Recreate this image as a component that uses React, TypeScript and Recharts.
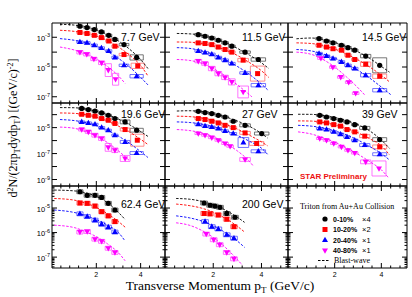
import React from 'react';
import { ComposedChart, Scatter, Line, XAxis, YAxis, ReferenceArea, ReferenceLine } from 'recharts';

// [pT, yield, sys factor (optional)]
const pts77 = [
  [[1.26, 5.5e-3], [1.58, 4.5e-3], [1.91, 3.3e-3], [2.23, 2.3e-3], [2.56, 1.35e-3], [2.84, 7.1e-4], [3.25, 3.2e-4], [3.82, 4.4e-5, 1.5]],
  [[1.26, 2.1e-3], [1.58, 1.8e-3], [1.91, 1.35e-3], [2.23, 9.5e-4], [2.56, 5.6e-4], [2.84, 2.5e-4], [3.25, 6.9e-5], [3.87, 1.2e-5, 1.5]],
  [[1.26, 4.8e-4], [1.58, 4.2e-4], [1.91, 2.9e-4], [2.23, 1.9e-4], [2.56, 1.2e-4], [2.84, 4.4e-5], [3.25, 1.3e-5], [3.82, 2.4e-6, 1.3]],
  [[1.26, 9.8e-5, 1.3], [1.57, 7.2e-5, 1.3], [1.89, 3.5e-5, 1.3], [2.24, 1.9e-5, 1.3], [2.54, 6.2e-6, 2.7], [2.87, 1.5e-6, 2.5]],
];
const fit77 = [
  [[0.36, 7.4e-3], [1, 6.6e-3], [1.5, 5.0e-3], [2, 3.16e-3], [2.5, 1.5e-3], [3, 5.6e-4], [3.5, 1.58e-4], [4, 3.16e-5], [4.33, 7.9e-6]],
  [[0.36, 2.95e-3], [1, 2.5e-3], [1.5, 1.9e-3], [2, 1.2e-3], [2.5, 6.0e-4], [3, 2.2e-4], [3.5, 6.3e-5], [4, 1.26e-5], [4.33, 2.5e-6]],
  [[0.36, 8.1e-4], [1, 6.3e-4], [1.5, 4.4e-4], [2, 2.5e-4], [2.5, 1.1e-4], [3, 3.8e-5], [3.5, 1e-5], [4, 2e-6], [4.33, 6.3e-7]],
  [[0.36, 2.2e-4], [1, 1.4e-4], [1.5, 7.9e-5], [2, 3.5e-5], [2.5, 1.1e-5], [3, 2.5e-6], [3.3, 7.9e-7]],
];

const pts115 = [
  [[1.38, 1.5e-3], [1.66, 1.17e-3], [1.94, 8.9e-4], [2.21, 6.3e-4], [2.49, 4.2e-4], [2.77, 2.5e-4], [3.32, 1.0e-4], [3.87, 3.2e-5, 1.3]],
  [[1.38, 4.2e-4], [1.66, 3.8e-4], [1.94, 3.2e-4], [2.21, 2.2e-4], [2.49, 1.5e-4], [2.77, 1.0e-4], [3.24, 2.9e-5, 1.3], [3.84, 3.6e-6, 3.2]],
  [[1.38, 1.2e-4], [1.66, 9.3e-5], [1.94, 7.2e-5], [2.21, 4.4e-5], [2.49, 2.9e-5], [2.77, 1.7e-5], [3.32, 4e-6], [3.87, 6e-7, 1.3]],
  [[1.38, 2.5e-5, 1.3], [1.66, 1.7e-5, 1.3], [1.94, 7.9e-6, 1.4], [2.21, 3.6e-6, 1.4], [2.49, 2e-6, 1.4], [2.77, 1e-6, 1.6], [3.24, 2.1e-7, 2.5]],
];
const fit115 = [
  [[0.49, 1.8e-3], [1, 1.7e-3], [1.5, 1.4e-3], [2, 8.7e-4], [2.5, 4.4e-4], [3, 1.8e-4], [3.5, 6.3e-5], [4, 1.9e-5], [4.3, 8e-6]],
  [[0.49, 4.8e-4], [1, 4.7e-4], [1.5, 3.8e-4], [2, 2.6e-4], [2.5, 1.4e-4], [3, 6e-5], [3.5, 2e-5], [4, 5.6e-6], [4.3, 2e-6]],
  [[0.49, 2e-4], [1, 1.8e-4], [1.5, 1.26e-4], [2, 7.1e-5], [2.5, 3.2e-5], [3, 1.1e-5], [3.5, 3.2e-6], [4, 7.1e-7], [4.3, 2.5e-7]],
  [[0.49, 3.2e-5], [1, 2.8e-5], [1.5, 1.8e-5], [2, 7.9e-6], [2.5, 2.5e-6], [3, 6.3e-7], [3.6, 1e-7]],
];

const pts145 = [
  [[1.33, 8.1e-4], [1.65, 5.6e-4], [1.93, 4.2e-4], [2.29, 2.9e-4], [2.57, 2.0e-4], [2.86, 1.35e-4], [3.33, 5.4e-5, 1.3], [3.93, 1.3e-5, 3.2]],
  [[1.33, 2.9e-4], [1.65, 2.2e-4], [1.93, 1.7e-4], [2.29, 1.35e-4], [2.57, 6.2e-5], [2.86, 3.2e-5], [3.33, 1.55e-5, 1.4], [3.93, 2.4e-6, 1.4]],
  [[1.33, 8.1e-5], [1.65, 5.4e-5], [1.93, 3.7e-5], [2.29, 2.2e-5], [2.57, 1.3e-5], [2.86, 7.9e-6], [3.33, 2.8e-6, 1.3], [3.93, 2.75e-7, 1.3]],
  [[1.41, 3.9e-5], [1.92, 9.8e-6], [2.26, 2.1e-6], [2.6, 9.5e-7], [2.9, 1.7e-7]],
];
const fit145 = [
  [[0.36, 7.9e-4], [1, 8.9e-4], [1.5, 7.1e-4], [2, 4.5e-4], [2.5, 2.4e-4], [3, 1.05e-4], [3.5, 3.8e-5], [4, 1.1e-5], [4.35, 4.5e-6]],
  [[0.36, 4.2e-4], [1, 3.8e-4], [1.5, 2.75e-4], [2, 1.6e-4], [2.5, 7.6e-5], [3, 3e-5], [3.5, 1e-5], [4, 2.8e-6], [4.35, 1e-6]],
  [[0.36, 1.5e-4], [1, 1.2e-4], [1.5, 7.6e-5], [2, 4e-5], [2.5, 1.66e-5], [3, 6e-6], [3.5, 1.8e-6], [4, 4.5e-7], [4.4, 1.4e-7]],
  [[0.36, 1e-4], [1, 7.1e-5], [1.5, 3.2e-5], [2, 1e-5], [2.5, 2.2e-6], [3, 4e-7], [3.3, 1.26e-7]],
];

const pts196 = [
  [[1.34, 3.0e-4], [1.64, 2.45e-4], [1.94, 1.9e-4], [2.24, 1.35e-4], [2.54, 8.9e-5], [2.84, 5e-5], [3.3, 2.75e-5, 1.4], [3.82, 6.3e-6, 1.4]],
  [[1.34, 1.07e-4], [1.64, 8.9e-5], [1.94, 7.6e-5], [2.24, 5e-5], [2.54, 3.7e-5], [2.84, 2.1e-5], [3.3, 7.1e-6, 1.3], [3.85, 1.07e-6, 2.9]],
  [[1.34, 2.75e-5], [1.64, 2.3e-5], [1.94, 1.8e-5], [2.24, 1e-5], [2.54, 6.3e-6], [2.84, 2.6e-6], [3.3, 7.9e-7, 1.3], [3.82, 1.1e-7, 1.3]],
  [[1.34, 7.1e-6, 1.3], [1.64, 4.7e-6, 1.3], [1.94, 2.6e-6, 1.4], [2.24, 1.45e-6, 1.4], [2.54, 3e-7, 2.0], [2.84, 1.8e-7, 1.5], [3.3, 4.2e-8, 1.7]],
];
const fit196 = [
  [[0.36, 3.5e-4], [1, 3.4e-4], [1.5, 2.75e-4], [2, 1.8e-4], [2.5, 1e-4], [3, 4.5e-5], [3.5, 1.66e-5], [4, 5e-6], [4.33, 2.1e-6]],
  [[0.36, 1.35e-4], [1, 1.26e-4], [1.5, 1e-4], [2, 6.3e-5], [2.5, 3.2e-5], [3, 1.3e-5], [3.5, 4.5e-6], [4, 1.26e-6], [4.33, 5e-7]],
  [[0.36, 4.2e-5], [1, 3.5e-5], [1.5, 2.5e-5], [2, 1.4e-5], [2.5, 6.3e-6], [3, 2.2e-6], [3.5, 6.3e-7], [4, 1.4e-7], [4.33, 5e-8]],
  [[0.36, 1.1e-5], [1, 8.9e-6], [1.5, 5e-6], [2, 2.2e-6], [2.5, 7.1e-7], [3, 1.6e-7], [3.5, 2.8e-8]],
];

const pts27 = [
  [[1.38, 1.8e-4], [1.66, 1.45e-4], [1.94, 1.2e-4], [2.21, 8.9e-5], [2.49, 6.6e-5], [2.83, 3.1e-5], [3.32, 1.5e-5, 1.3], [4.01, 3.5e-6, 1.3]],
  [[1.38, 5e-5], [1.66, 4.2e-5], [1.94, 3.1e-5], [2.21, 2.3e-5], [2.49, 1.5e-5], [2.83, 1e-5], [3.32, 3.9e-6, 1.3], [3.8, 6e-7, 1.4]],
  [[1.38, 1.8e-5], [1.66, 1.35e-5], [1.94, 1.1e-5], [2.21, 8.5e-6], [2.49, 5.6e-6], [2.83, 3.5e-6], [3.25, 7.1e-7, 2.4], [3.87, 1.5e-7, 1.3]],
  [[1.38, 3.5e-6], [1.66, 2.6e-6], [1.94, 1.7e-6], [2.21, 1.07e-6], [2.49, 6e-7], [2.7, 3.7e-7], [3.32, 3.5e-8, 1.4]],
];
const fit27 = [
  [[0.49, 1.9e-4], [1, 2e-4], [1.5, 1.7e-4], [2, 1.2e-4], [2.5, 6.8e-5], [3, 3.2e-5], [3.5, 1.26e-5], [4, 3.5e-6], [4.25, 1.6e-6]],
  [[0.49, 7.6e-5], [1, 7.1e-5], [1.5, 5.6e-5], [2, 3.5e-5], [2.5, 1.8e-5], [3, 7.6e-6], [3.5, 2.6e-6], [4, 7.9e-7], [4.25, 4e-7]],
  [[0.49, 2.75e-5], [1, 2.5e-5], [1.5, 1.9e-5], [2, 1.17e-5], [2.5, 6e-6], [3, 2.5e-6], [3.5, 8.9e-7], [4, 2.6e-7], [4.25, 8.9e-8]],
  [[0.49, 7.1e-6], [1, 6e-6], [1.5, 4e-6], [2, 2e-6], [2.5, 6.3e-7], [3, 1.6e-7], [3.5, 2.5e-8], [3.66, 1.1e-8]],
];

const pts39 = [
  [[1.36, 8.9e-5], [1.65, 6.6e-5], [1.96, 5e-5], [2.25, 3.7e-5], [2.53, 2.75e-5], [2.86, 1.7e-5], [3.29, 9.5e-6, 1.3], [3.93, 1.2e-6, 1.4]],
  [[1.36, 2.75e-5], [1.65, 2.3e-5], [1.96, 1.7e-5], [2.25, 1.3e-5], [2.53, 7.1e-6], [2.86, 4.7e-6], [3.29, 2.2e-6, 1.3], [3.93, 3.3e-7, 1.4]],
  [[1.36, 8.5e-6], [1.65, 7.1e-6], [1.96, 4.7e-6], [2.25, 3.1e-6], [2.53, 1.9e-6], [2.86, 1.07e-6], [3.29, 4.5e-7, 1.3], [3.93, 8.9e-8, 1.3]],
  [[1.36, 1.45e-6], [1.65, 1.07e-6], [1.96, 6e-7], [2.29, 3.3e-7], [2.57, 1.8e-7], [2.86, 1.1e-7], [3.33, 2.3e-8, 1.4], [3.9, 7.1e-9, 3.8]],
];
const fit39 = [
  [[0.43, 1.07e-4], [1, 1.05e-4], [1.5, 8.7e-5], [2, 6e-5], [2.5, 3.5e-5], [3, 1.66e-5], [3.5, 5.6e-6], [4, 1.1e-6], [4.35, 2.5e-7]],
  [[0.43, 3.3e-5], [1, 3.2e-5], [1.5, 2.5e-5], [2, 1.66e-5], [2.5, 8.9e-6], [3, 4e-6], [3.5, 1.4e-6], [4, 4e-7], [4.35, 7.9e-8]],
  [[0.43, 1.5e-5], [1, 1.3e-5], [1.5, 9.5e-6], [2, 5.6e-6], [2.5, 2.8e-6], [3, 1.1e-6], [3.5, 3.5e-7], [4, 1e-7], [4.35, 3.2e-8]],
  [[0.43, 4.7e-6], [1, 3.2e-6], [1.5, 1.66e-6], [2, 7.6e-7], [2.5, 2.8e-7], [3, 8.9e-8], [3.5, 2.4e-8], [4, 5.6e-9], [4.3, 1.4e-9]],
];

const pts624 = [
  [[1.26, 4.6e-5], [1.59, 3.3e-5], [1.94, 3.3e-5], [2.24, 2.7e-5], [2.54, 1.55e-5], [2.84, 8.3e-6]],
  [[1.26, 1.6e-5], [1.59, 1.55e-5], [1.94, 1.2e-5], [2.24, 7.1e-6], [2.54, 4.8e-6], [2.84, 2.8e-6]],
  [[1.26, 5.8e-6], [1.59, 4.5e-6], [1.94, 3.2e-6], [2.24, 2.2e-6], [2.54, 1.66e-6], [2.84, 1.05e-6]],
  [[1.26, 1.05e-6], [1.59, 1.1e-6], [1.94, 5.4e-7], [2.24, 4.4e-7], [2.54, 2.3e-7], [2.84, 1.55e-7]],
];
const fit624 = [
  [[0.1, 5.4e-5], [1, 5e-5], [1.5, 4.2e-5], [2, 3e-5], [2.5, 1.66e-5], [3, 6.6e-6], [3.3, 3.4e-6]],
  [[0.1, 2.45e-5], [1, 2.1e-5], [1.5, 1.6e-5], [2, 1.05e-5], [2.5, 5.9e-6], [3, 2.8e-6], [3.3, 1.66e-6]],
  [[0.1, 8.3e-6], [1, 6.6e-6], [1.5, 5e-6], [2, 3.4e-6], [2.5, 2e-6], [3, 1e-6], [3.3, 4.5e-7]],
  [[0.1, 2e-6], [1, 1.6e-6], [1.5, 1.1e-6], [2, 6.8e-7], [2.5, 3.5e-7], [3, 1.5e-7], [3.3, 7.1e-8]],
];

const pts200 = [
  [[1.62, 1.6e-5], [1.87, 1.3e-5], [2.07, 1.2e-5], [2.28, 1.07e-5], [2.56, 6e-6], [2.9, 4.2e-6]],
  [[1.62, 6e-6], [1.87, 5.8e-6], [2.21, 5.2e-6], [2.56, 3.5e-6], [2.86, 1.74e-6]],
  [[1.66, 2.8e-6], [1.94, 1.74e-6], [2.21, 1.4e-6], [2.56, 8.1e-7], [2.86, 5.9e-7]],
  [[1.71, 8.7e-7], [2.02, 5.1e-7], [2.27, 3.2e-7], [2.56, 1.55e-7], [2.86, 8.5e-8]],
];
const fit200 = [
  [[0.46, 2.45e-5], [1, 2.3e-5], [1.5, 1.9e-5], [2, 1.35e-5], [2.5, 8.3e-6], [3, 4.2e-6], [3.3, 2.6e-6]],
  [[0.46, 1.45e-5], [1, 1.26e-5], [1.5, 1e-5], [2, 6.8e-6], [2.5, 3.8e-6], [3, 1.8e-6], [3.3, 1.05e-6]],
  [[0.46, 4.8e-6], [1, 4e-6], [1.5, 3e-6], [2, 1.9e-6], [2.5, 1e-6], [3, 4.5e-7], [3.3, 2.5e-7]],
  [[0.46, 2.5e-6], [1, 2e-6], [1.5, 1.26e-6], [2, 6.3e-7], [2.5, 2.5e-7], [3, 7.9e-8], [3.2, 4.8e-8]],
];

const energies = ['7.7 GeV', '11.5 GeV', '14.5 GeV', '19.6 GeV', '27 GeV', '39 GeV', '62.4 GeV', '200 GeV'];
const panelPts = [pts77, pts115, pts145, pts196, pts27, pts39, pts624, pts200];
const panelFits = [fit77, fit115, fit145, fit196, fit27, fit39, fit624, fit200];
const centralities = ['0-10%', '10-20%', '20-40%', '40-80%'];
const scaleFactors = ['\u00d74', '\u00d72', '\u00d71', '\u00d71'];
const xTickLabels = [2, 4];
const yTickLabels = [[-3, -5, -7], [-5, -7, -9], [-5, -6, -7]];
const yDomains = [[3.8e-8, 9.1e-3], [3.16e-10, 7.9e-4], [3.6e-8, 7.9e-5]];
const xDomain = [0, 5.1];

// layout
const colX = [52, 165, 288];
const colW = [113, 123, 119];
const rowY = [23, 103, 186];
const rowH = [80, 83, 82];
const colors = ['#000000', '#ff0000', '#0000ff', '#ff00ff'];
const boxColors = ['#555555', '#ff7070', '#5050ff', '#ff50ff'];
const sans = '"Liberation Sans", Arial, sans-serif';
const serif = '"Liberation Serif", "Times New Roman", serif';

const xTicks: number[] = [];
for (let i = 1; i <= 12; i++) xTicks.push(Math.round(i * 4) / 10);

function logTicks(lo: number, hi: number, minor: boolean) {
  const out: number[] = [];
  for (let e = Math.floor(Math.log10(lo)); e <= Math.ceil(Math.log10(hi)); e++) {
    for (let m = 1; m <= (minor ? 9 : 1); m++) {
      const v = m * Math.pow(10, e);
      if (v >= lo && v <= hi) out.push(v);
    }
  }
  return out;
}
const yTicks = yDomains.map((d, r) => logTicks(d[0], d[1], r === 2));
const isDecade = (v: number) => Math.abs(Math.log10(v) - Math.round(Math.log10(v))) < 1e-6;

function XLabel(p: any) {
  const { x, y, payload, showLabel } = p;
  const v = payload.value;
  if (!showLabel || !xTickLabels.includes(v)) return <g />;
  return <text x={x} y={y + 9} textAnchor="middle" fontSize={7} fontFamily={sans} fill="#000">{v}</text>;
}

function YLabel(p: any) {
  const { x, y, payload, labels } = p;
  const e = Math.round(Math.log10(payload.value));
  if (!labels || !isDecade(payload.value) || !labels.includes(e)) return <g />;
  return (
    <text x={x - 2} y={y + 3.5} textAnchor="end" fontSize={7.5} fontFamily={sans} fill="#000">
      10<tspan dy={-3.5} fontSize={5.5}>{e}</tspan>
    </text>
  );
}

function Marker({ cx, cy, s }: { cx: number; cy: number; s: number }) {
  const c = colors[s];
  if (s === 0) return <circle cx={cx} cy={cy} r={2.6} fill={c} />;
  if (s === 1) return <rect x={cx - 2.5} y={cy - 2.5} width={5} height={5} fill={c} />;
  if (s === 2) return <polygon points={`${cx},${cy - 3.3} ${cx - 3},${cy + 2} ${cx + 3},${cy + 2}`} fill={c} />;
  return <polygon points={`${cx},${cy + 3.3} ${cx - 3},${cy - 2} ${cx + 3},${cy - 2}`} fill={c} />;
}

function Panel({ idx }: { idx: number }) {
  const row = Math.floor(idx / 3);
  const col = idx % 3;
  const pts = panelPts[idx] || [];
  const fits = panelFits[idx] || [];
  const aw = col === 0 ? 30 : 0;
  const ah = row === 2 ? 14 : 0;
  const w = colW[col];
  const h = rowH[row];
  const [lo, hi] = yDomains[row];
  const pxPerDec = h / (Math.log10(hi) - Math.log10(lo));
  const gevPerPx = (xDomain[1] - xDomain[0]) / w;

  // inward tick marks on all four sides of the frame
  const tickMarks: any[] = [];
  xTicks.forEach((v) => {
    const len = xTickLabels.includes(v) ? 5 : 2.5;
    const f = Math.pow(10, len / pxPerDec);
    tickMarks.push(<ReferenceLine key={`xb${v}`} xAxisId="b" yAxisId="l" segment={[{ x: v, y: lo }, { x: v, y: lo * f }]} stroke="#000" strokeWidth={1} ifOverflow="visible" />);
    tickMarks.push(<ReferenceLine key={`xt${v}`} xAxisId="b" yAxisId="l" segment={[{ x: v, y: hi / f }, { x: v, y: hi }]} stroke="#000" strokeWidth={1} ifOverflow="visible" />);
  });
  yTicks[row].forEach((v, i) => {
    const dx = (isDecade(v) ? 5 : 2.5) * gevPerPx;
    tickMarks.push(<ReferenceLine key={`yl${i}`} xAxisId="b" yAxisId="l" segment={[{ x: xDomain[0], y: v }, { x: xDomain[0] + dx, y: v }]} stroke="#000" strokeWidth={1} ifOverflow="visible" />);
    tickMarks.push(<ReferenceLine key={`yr${i}`} xAxisId="b" yAxisId="l" segment={[{ x: xDomain[1] - dx, y: v }, { x: xDomain[1], y: v }]} stroke="#000" strokeWidth={1} ifOverflow="visible" />);
  });

  return (
    <div style={{ position: 'absolute', left: colX[col] - aw - 1, top: rowY[row] - 1 }}>
      <ComposedChart width={w + aw + 2} height={h + ah + 2} margin={{ top: 1, right: 1, bottom: 1, left: 1 }}>
        <XAxis xAxisId="b" dataKey="x" type="number" domain={xDomain} allowDataOverflow ticks={xTicks} interval={0}
          height={ah} tickSize={0} tickMargin={0} tickLine={false} axisLine={false}
          tick={(p: any) => <XLabel {...p} showLabel={row === 2} />} />
        <YAxis yAxisId="l" type="number" scale="log" domain={yDomains[row]} allowDataOverflow ticks={yTicks[row]} interval={0}
          width={aw} tickSize={0} tickMargin={0} tickLine={false} axisLine={false}
          tick={(p: any) => <YLabel {...p} labels={col === 0 ? yTickLabels[row] : null} />} />
        <ReferenceArea xAxisId="b" yAxisId="l" x1={xDomain[0]} x2={xDomain[1]} y1={lo} y2={hi}
          fill="none" fillOpacity={0} stroke="#000" strokeWidth={1} ifOverflow="visible" />
        {tickMarks}
        {pts.map((series, s) =>
          series.map((pt, i) => {
            const [x, y, f = 1.2] = pt;
            const hw = x > 3.5 ? 0.3 : x > 3.0 ? 0.22 : 0.14;
            return (
              <ReferenceArea key={`b${s}-${i}`} xAxisId="b" yAxisId="l" x1={x - hw} x2={x + hw} y1={y / f} y2={y * f}
                fill="none" fillOpacity={0} stroke={boxColors[s]} strokeWidth={0.8} />
            );
          })
        )}
        {fits.map((fit, s) => (
          <Line key={`f${s}`} xAxisId="b" yAxisId="l" data={fit.map(([x, y]) => ({ x, y }))} dataKey="y" type="monotone"
            stroke={colors[s]} strokeWidth={0.9} strokeDasharray="2.5 1.5" dot={false} activeDot={false} isAnimationActive={false} />
        ))}
        {pts.map((series, s) => (
          <Scatter key={`p${s}`} xAxisId="b" yAxisId="l" data={series.map(([x, y]) => ({ x, y }))} dataKey="y"
            isAnimationActive={false} shape={(p: any) => <Marker cx={p.cx} cy={p.cy} s={s} />} />
        ))}
      </ComposedChart>
    </div>
  );
}

const labelX = [121, 242, 362];
const labelY = [41, 117.5, 207.5];
const legendY = [219, 229.5, 240, 250.5];

export default function App() {
  return (
    <div style={{ position: 'absolute', left: 0, top: 0, width: 412, height: 297, background: '#fff' }}>
      {Array.from({ length: 9 }, (_, i) => <Panel key={i} idx={i} />)}
      <svg width={412} height={297} style={{ position: 'absolute', left: 0, top: 0, pointerEvents: 'none' }}>
        {energies.map((t, i) => (
          <text key={t} x={labelX[i % 3]} y={labelY[Math.floor(i / 3)]} fontSize={10.5} fontFamily={sans} fill="#000">{t}</text>
        ))}
        <text x={300} y={179} fontSize={8} fontWeight="bold" fontFamily={sans} fill="#ee1111">STAR Preliminary</text>
        <text x={300} y={209} fontSize={8} fontFamily={serif} fill="#000">Triton from Au+Au Collision</text>
        {centralities.map((c, s) => (
          <g key={c}>
            <Marker cx={325} cy={legendY[s]} s={s} />
            <text x={333} y={legendY[s] + 2.7} fontSize={7} fontWeight="bold" fontFamily={sans} fill="#000">{c}</text>
            <text x={362} y={legendY[s] + 2.7} fontSize={7.5} fontFamily={sans} fill="#000">{scaleFactors[s]}</text>
          </g>
        ))}
        <line x1={318} x2={330} y1={260.5} y2={260.5} stroke="#000" strokeWidth={1} strokeDasharray="2.5 1.5" />
        <text x={334} y={263} fontSize={8} fontFamily={serif} fill="#000">Blast-wave</text>
        <text transform="translate(17,128) rotate(-90)" textAnchor="middle" fontSize={12} fontFamily={serif} fill="#000">
          d<tspan dy={-4} fontSize={8}>2</tspan>
          <tspan dy={4}>N/(2πp</tspan>
          <tspan dy={2.5} fontSize={8}>T</tspan>
          <tspan dy={-2.5}>dydp</tspan>
          <tspan dy={2.5} fontSize={8}>T</tspan>
          <tspan dy={-2.5}>) [(GeV/c)</tspan>
          <tspan dy={-4} fontSize={8}>-2</tspan>
          <tspan dy={4}>]</tspan>
        </text>
        <text x={220} y={290} textAnchor="middle" fontSize={13.5} fontFamily={serif} fill="#000">
          Transverse Momentum p<tspan dy={3} fontSize={9}>T</tspan>
          <tspan dy={-3}> (GeV/c)</tspan>
        </text>
      </svg>
    </div>
  );
}
